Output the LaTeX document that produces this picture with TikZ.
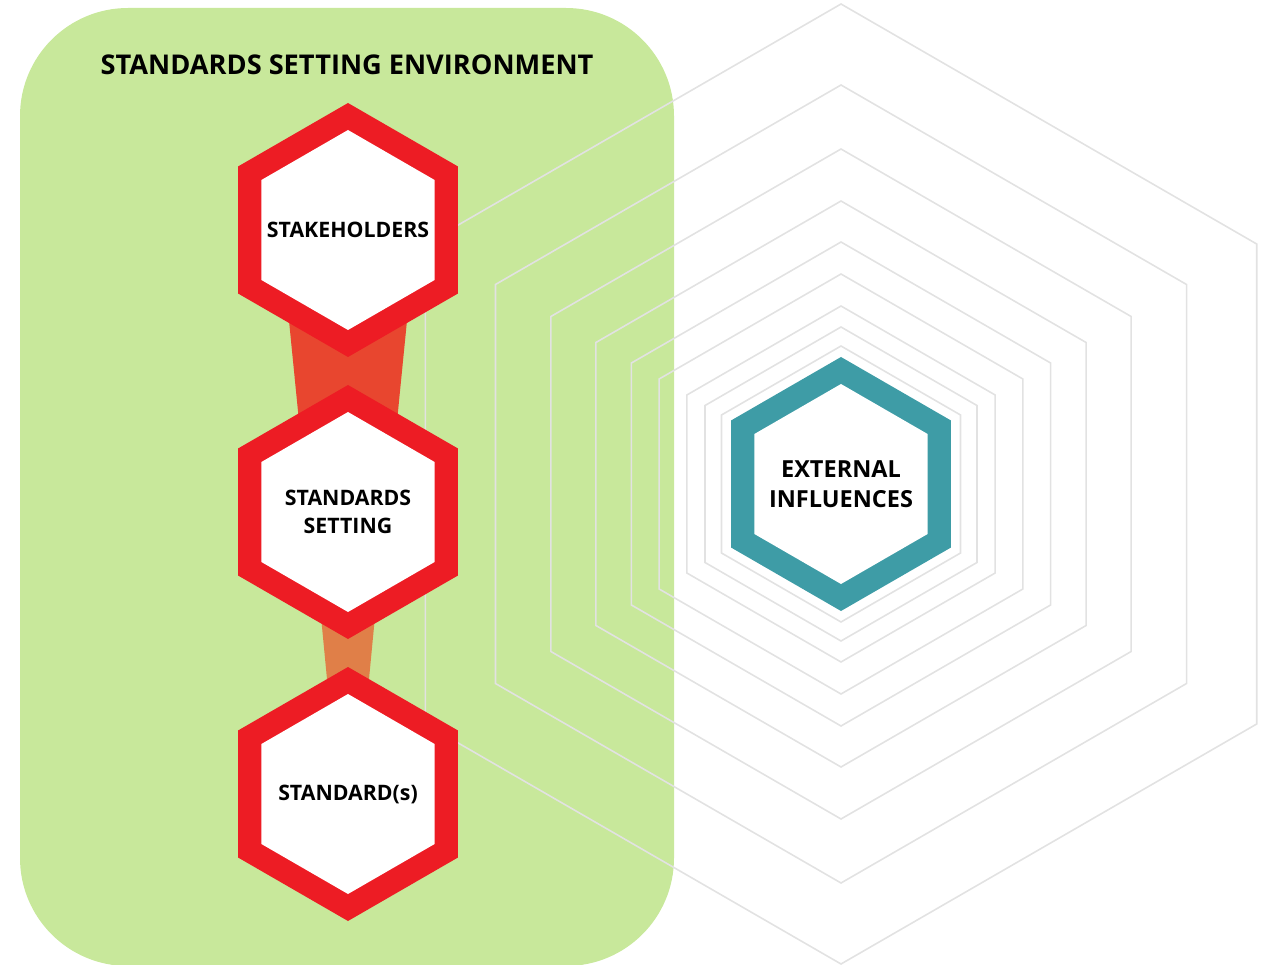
\documentclass[tikz,border=0pt]{standalone}
\usepackage{fontspec}
\setmainfont{Open Sans}
\usetikzlibrary{calc}
\definecolor{envgreen}{HTML}{C8E89B}
\definecolor{hexred}{HTML}{ED1C24}
\definecolor{hexteal}{HTML}{3E9CA6}
\definecolor{hexgray}{HTML}{E2E2E2}
\definecolor{connA}{HTML}{E8462F}
\definecolor{connB}{HTML}{E07F48}
\newcommand\hexat[3][]{\path[#1] (#2) ++(90:#3) -- ++(210:#3) -- ++(270:#3) -- ++(330:#3) -- ++(30:#3) -- ++(90:#3) -- cycle;}
\tikzset{
  ringline/.style={draw=hexgray, line width=1.6pt},
  lbl/.style={font=\bfseries\fontsize{21.3}{28}\selectfont, align=center, inner sep=0pt, text=black},
  extlbl/.style={font=\bfseries\fontsize{23.5}{30}\selectfont, align=center, inner sep=0pt, text=black},
  titlelbl/.style={font=\bfseries\fontsize{27.2}{34}\selectfont, inner sep=0pt, text=black}
}
\begin{document}
\begin{tikzpicture}[x=1pt,y=-1pt]
\useasboundingbox (0,0) rectangle (1261,965);
% environment box
\fill[envgreen, rounded corners=108pt] (20,8) rectangle (674,966);
% concentric rings
\coordinate (ringc) at (841,484);
\foreach \r in {138,157,178,210,242,283,335,399,480}{\hexat[ringline]{ringc}{\r}}
% node centres
\coordinate (cA) at (348,230);
\coordinate (cB) at (348,512);
\coordinate (cC) at (348,794);
% connectors
\fill[connA] ($(cA)+(-68,0)$) -- ($(cA)+(68,0)$) -- ($(cB)+(40,0)$) -- ($(cB)+(-40,0)$) -- cycle;
\fill[connB] ($(cB)+(-37,0)$) -- ($(cB)+(37,0)$) -- ($(cC)+(10,0)$) -- ($(cC)+(-10,0)$) -- cycle;
% red hexagons
\foreach \c in {cA,cB,cC}{
  \hexat[fill=hexred]{\c}{127}
  \hexat[fill=white]{\c}{100}
}
% teal hexagon
\hexat[fill=hexteal]{ringc}{127}
\hexat[fill=white]{ringc}{100}
% labels
\node[titlelbl] (title) at (347,65) {STANDARDS SETTING ENVIRONMENT};
\node[lbl] (stake) at (cA) {STAKEHOLDERS};
\node[lbl] (setting) at (cB) {STANDARDS\\SETTING};
\node[lbl] (std) at (cC) {STANDARD(s)};
\node[extlbl] (ext) at (ringc) {EXTERNAL\\INFLUENCES};
\end{tikzpicture}
\end{document}
